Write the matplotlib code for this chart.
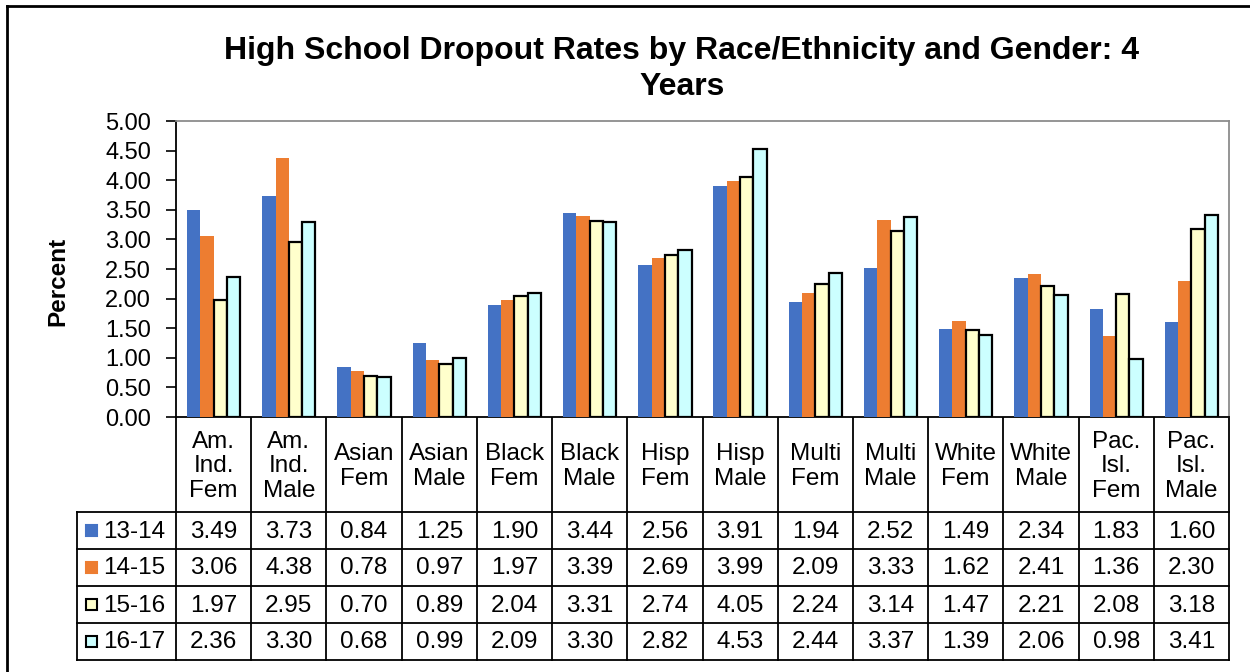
import matplotlib.pyplot as plt
from matplotlib.patches import Rectangle

plt.rcParams['font.family'] = ['Liberation Sans', 'DejaVu Sans']

# groups shown along the x axis / in the table header
groups = ["Am.\nInd.\nFem", "Am.\nInd.\nMale", "Asian\nFem", "Asian\nMale",
          "Black\nFem", "Black\nMale", "Hisp\nFem", "Hisp\nMale",
          "Multi\nFem", "Multi\nMale", "White\nFem", "White\nMale",
          "Pac.\nIsl.\nFem", "Pac.\nIsl.\nMale"]

years = ["13-14", "14-15", "15-16", "16-17"]

rate_13_14 = [3.49, 3.73, 0.84, 1.25, 1.90, 3.44, 2.56, 3.91, 1.94, 2.52, 1.49, 2.34, 1.83, 1.60]
rate_14_15 = [3.06, 4.38, 0.78, 0.97, 1.97, 3.39, 2.69, 3.99, 2.09, 3.33, 1.62, 2.41, 1.36, 2.30]
rate_15_16 = [1.97, 2.95, 0.70, 0.89, 2.04, 3.31, 2.74, 4.05, 2.24, 3.14, 1.47, 2.21, 2.08, 3.18]
rate_16_17 = [2.36, 3.30, 0.68, 0.99, 2.09, 3.30, 2.82, 4.53, 2.44, 3.37, 1.39, 2.06, 0.98, 3.41]

series = [rate_13_14, rate_14_15, rate_15_16, rate_16_17]
fills = ["#4472C4", "#ED7D31", "#FFFFCC", "#CCFFFF"]
edges = ["none", "none", "black", "black"]

W, H = 1250, 672
fig = plt.figure(figsize=(W / 100, H / 100), dpi=100)

# plot area in pixels
px0, px1, py0, py1 = 176, 1229, 121, 417
ax = fig.add_axes([px0 / W, 1 - py1 / H, (px1 - px0) / W, (py1 - py0) / H])

n = len(groups)
bw = 0.177
for k, vals in enumerate(series):
    xs = [i + (k - 1.5) * bw for i in range(n)]
    ax.bar(xs, vals, width=bw, color=fills[k], edgecolor=edges[k],
           linewidth=1.6 if edges[k] != "none" else 0, zorder=3)

ax.set_xlim(-0.5, n - 0.5)
ax.set_ylim(0, 5)
ax.set_yticks([i * 0.5 for i in range(11)])
ax.set_yticklabels([f"{i * 0.5:.2f}" for i in range(11)], fontsize=17)
ax.set_xticks([])
ax.tick_params(axis='y', direction='out', length=7, width=1.2, pad=11)
ax.spines['left'].set_color('black')
ax.spines['left'].set_linewidth(1.3)
ax.spines['bottom'].set_color('black')
ax.spines['bottom'].set_linewidth(1.3)
for s in ['top', 'right']:
    ax.spines[s].set_color('#8c8c8c')
    ax.spines[s].set_linewidth(1.3)
ax.set_ylabel("Percent", fontsize=17.5, fontweight='bold')
ax.yaxis.set_label_coords(-(176 - 69) / (px1 - px0), (py1 - 281) / (py1 - py0))

fig.text(682 / W, 1 - 69 / H,
         "High School Dropout Rates by Race/Ethnicity and Gender: 4\nYears",
         ha='center', va='center', fontsize=23, fontweight='bold',
         linespacing=1.22)

# overlay in pixel coordinates for the data table and chart border
ov = fig.add_axes([0, 0, 1, 1], zorder=-1)
ov.set_xlim(0, W)
ov.set_ylim(H, 0)
ov.axis('off')

lw = 1.3
ov.plot([7, W], [6, 6], color='black', lw=2)
ov.plot([7, 7], [6, H], color='black', lw=2)

cw = (px1 - px0) / n
hdr_bot = 512
rh = 37
tab_bot = hdr_bot + rh * len(years)
lab_x0 = 77

for i in range(n + 1):
    x = px0 + i * cw
    ov.plot([x, x], [py1, tab_bot], color='black', lw=lw)
ov.plot([lab_x0, lab_x0], [hdr_bot, tab_bot], color='black', lw=lw)
for r in range(len(years) + 1):
    y = hdr_bot + r * rh
    ov.plot([lab_x0, px1], [y, y], color='black', lw=lw)

for i, g in enumerate(groups):
    ov.text(px0 + (i + 0.5) * cw, (py1 + hdr_bot) / 2 + 2, g, ha='center', va='center',
            fontsize=17.5, linespacing=1.12)

for r, yr in enumerate(years):
    yc = hdr_bot + (r + 0.5) * rh
    ov.add_patch(Rectangle((86, yc - 5.5), 11, 11, facecolor=fills[r],
                           edgecolor=edges[r] if edges[r] != "none" else fills[r],
                           linewidth=1.5))
    ov.text(103, yc + 1, yr, ha='left', va='center', fontsize=17.5)
    for i, v in enumerate(series[r]):
        ov.text(px0 + (i + 0.5) * cw, yc + 1, f"{v:.2f}", ha='center', va='center',
                fontsize=17.5)

fig.savefig("out.png", dpi=100)
